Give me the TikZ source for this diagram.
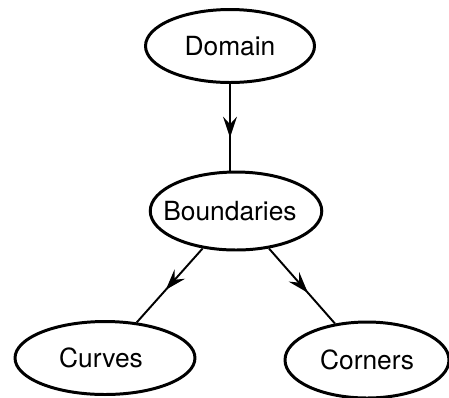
\documentclass[tikz,border=0pt]{standalone}
\usepackage{fontspec}
\setmainfont{TeX Gyre Heros}
\usetikzlibrary{shapes.geometric,arrows.meta,decorations.markings}

\begin{document}
\begin{tikzpicture}[
  x=0.02cm, y=-0.02cm,
  blob/.style={draw,ellipse,line width=1.7pt,inner sep=0pt,font=\fontsize{15}{17}\selectfont},
  link/.style={line width=1.1pt,postaction={decorate},
    decoration={markings,mark=at position #1 with {\arrow{Stealth[length=4.2mm,width=2.8mm,inset=1.5mm]}}}},
  link/.default=0.6
]
\useasboundingbox (0,0) rectangle (449,397);
\node[blob,minimum width=3.38cm,minimum height=1.46cm] (dom) at (230,46) {Domain};
\node[blob,minimum width=3.36cm,minimum height=1.56cm] (bnd) at (236,211) {\kern-0.24cm Boundaries};
\node[blob,minimum width=3.6cm,minimum height=1.46cm] (crv) at (105,358) {\kern-0.16cm Curves};
\node[blob,minimum width=3.28cm,minimum height=1.52cm] (cor) at (367,360) {Corners};
\coordinate (bt) at (dom |- bnd.north);
\draw[link=0.62] (dom) -- (bt);
\draw[link=0.56] (bnd) -- (crv);
\draw[link=0.59] (bnd) -- (cor);
\end{tikzpicture}
\end{document}
